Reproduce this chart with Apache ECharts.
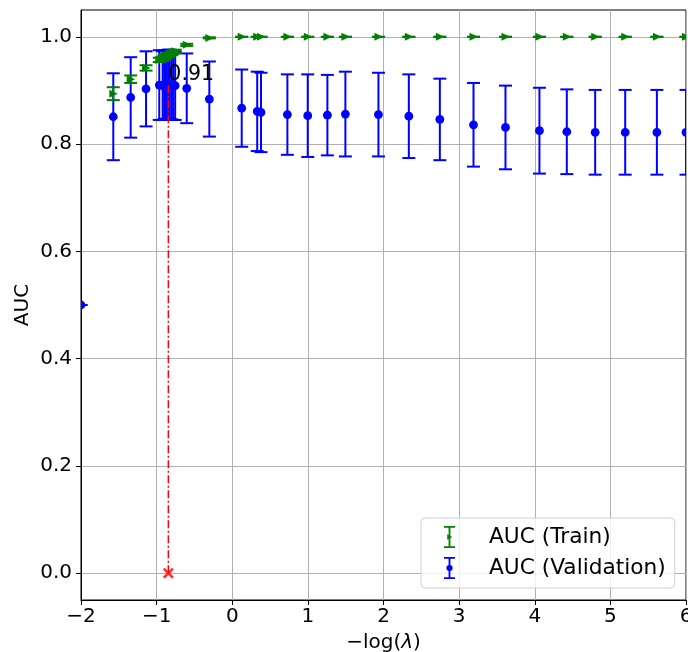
<!DOCTYPE html>
<html>
<head>
<meta charset="utf-8">
<script src="https://cdn.jsdelivr.net/npm/echarts@6/dist/echarts.min.js"></script>
<style>html,body{margin:0;padding:0;background:#fff;}#c{width:688px;height:652px;}</style>
</head>
<body>
<div id="c"></div>
<script>
// -log(lambda) positions shared by both series
const xValues = [-2.0, -1.573, -1.343, -1.14, -0.965, -0.92, -0.90, -0.88, -0.865, -0.845, -0.825, -0.80, -0.78, -0.755,
  -0.602, -0.303, 0.125, 0.33, 0.38, 0.729, 0.998, 1.258, 1.496, 1.933, 2.335, 2.745, 3.19, 3.613, 4.062, 4.424, 4.799, 5.196, 5.615, 6.0];
const valMean = [0.5, 0.851, 0.887, 0.903, 0.910, 0.909, 0.911, 0.910, 0.911, 0.912, 0.911, 0.910, 0.910, 0.909,
  0.904, 0.884, 0.867, 0.861, 0.859, 0.855, 0.853, 0.854, 0.856, 0.855, 0.852, 0.846, 0.836, 0.831, 0.825, 0.823, 0.822, 0.822, 0.822, 0.822];
const valStd = [0, 0.081, 0.075, 0.070, 0.065, 0.064, 0.064, 0.065, 0.064, 0.064, 0.065, 0.064, 0.065, 0.064,
  0.065, 0.070, 0.072, 0.074, 0.074, 0.075, 0.077, 0.075, 0.079, 0.078, 0.078, 0.076, 0.078, 0.078, 0.080, 0.079, 0.079, 0.079, 0.079, 0.079];
const trainMean = [null, 0.894, 0.921, 0.942, 0.957, 0.959, 0.961, 0.963, 0.965, 0.966, 0.967, 0.969, 0.971, 0.973,
  0.985, 0.998, 1.0, 1.0, 1.0, 1.0, 1.0, 1.0, 1.0, 1.0, 1.0, 1.0, 1.0, 1.0, 1.0, 1.0, 1.0, 1.0, 1.0, 1.0];
const trainStd = [null, 0.012, 0.007, 0.005, 0.004, 0.004, 0.004, 0.004, 0.004, 0.003, 0.003, 0.003, 0.003, 0.003,
  0.002, 0.001, 0, 0, 0, 0, 0, 0, 0, 0, 0, 0, 0, 0, 0, 0, 0, 0, 0, 0];
const bestX = -0.845;
const bestAUC = 0.912;
const xTicks = [-2, -1, 0, 1, 2, 3, 4, 5, 6];
const yTicks = [0, 0.2, 0.4, 0.6, 0.8, 1.0];
const seriesNames = ['AUC (Train)', 'AUC (Validation)'];

const FONT = 'DejaVu Sans';
function rows(mean, std) {
  const out = [];
  xValues.forEach((x, i) => { if (mean[i] != null) out.push([x, mean[i], std[i]]); });
  return out;
}
function errRender(color, marker) {
  return function (params, api) {
    const x = api.value(0), m = api.value(1), e = api.value(2);
    const c = api.coord([x, m]);
    const t = api.coord([x, m + e]);
    const b = api.coord([x, m - e]);
    const cw = 6.5;
    const ls = { stroke: color, lineWidth: 2 };
    const children = [
      { type: 'line', shape: { x1: c[0], y1: t[1], x2: c[0], y2: b[1] }, style: ls },
      { type: 'line', shape: { x1: c[0] - cw, y1: t[1], x2: c[0] + cw, y2: t[1] }, style: ls },
      { type: 'line', shape: { x1: c[0] - cw, y1: b[1], x2: c[0] + cw, y2: b[1] }, style: ls }
    ];
    if (marker === 'circle') {
      children.push({ type: 'circle', shape: { cx: c[0], cy: c[1], r: 4.4 }, style: { fill: color } });
    } else {
      children.push({ type: 'polygon', shape: { points: [[c[0] - 4, c[1] - 4], [c[0] + 4.5, c[1]], [c[0] - 4, c[1] + 4]] }, style: { fill: color } });
    }
    return { type: 'group', children };
  };
}
function circlePoly(cx, cy, r, n) {
  let s = '';
  for (let k = 0; k < n; k++) {
    const a = 2 * Math.PI * k / n;
    s += (k === 0 ? 'M' : 'L') + (cx + r * Math.cos(a)).toFixed(2) + ',' + (cy + r * Math.sin(a)).toFixed(2) + ' ';
  }
  return s + 'Z';
}
const barPath = 'M0,0 H12 V2 H0 Z M5,0 H7 V24 H5 Z M0,22 H12 V24 H0 Z ';
const trainIcon = 'path://' + barPath + 'M3.5,9 L9,12 L3.5,15 Z';
const valIcon = 'path://' + barPath + circlePoly(6, 12, 3.5, 16);

const chart = echarts.init(document.getElementById('c'), null, { renderer: 'canvas' });
chart.setOption({
  animation: false,
  backgroundColor: '#fff',
  textStyle: { fontFamily: FONT },
  grid: { left: 81, right: 2, top: 10, bottom: 52, containLabel: false, outerBoundsMode: 'none',
    show: true, borderColor: '#000', borderWidth: 1, backgroundColor: 'transparent' },
  legend: {
    orient: 'vertical', left: 421, top: 518,
    padding: [8, 9, 9, 23], itemGap: 9, itemWidth: 11, itemHeight: 22,
    backgroundColor: 'rgba(255,255,255,0.8)', borderColor: '#d0d0d0', borderWidth: 1, borderRadius: 4,
    textStyle: { fontFamily: FONT, fontSize: 21.7, color: '#000', lineHeight: 22, padding: [0, 0, 0, 29] },
    data: [
      { name: seriesNames[0], icon: trainIcon, itemStyle: { color: 'green' } },
      { name: seriesNames[1], icon: valIcon, itemStyle: { color: 'blue' } }
    ],
    selectedMode: false
  },
  xAxis: {
    type: 'value', min: -2, max: 6, interval: 1,
    name: '\u2212log({i|λ})', nameLocation: 'middle', nameGap: 33, nameMoveOverlap: false,
    nameTextStyle: { fontFamily: FONT, fontSize: 20, color: '#000',
      rich: { i: { fontFamily: FONT, fontStyle: 'italic', fontSize: 20, color: '#000' } } },
    axisLine: { show: true, onZero: false, lineStyle: { color: '#000', width: 1 } },
    axisTick: { show: true, inside: false, length: 5, lineStyle: { color: '#000', width: 1 }, customValues: xTicks },
    axisLabel: { fontFamily: FONT, fontSize: 20, color: '#000', margin: 7, customValues: xTicks,
      formatter: v => v < 0 ? '\u2212' + (-v) : String(v) },
    splitLine: { show: true, lineStyle: { color: '#b0b0b0', width: 1 } }
  },
  yAxis: {
    type: 'value', min: -0.05, max: 1.05, minInterval: 0.2, maxInterval: 0.2,
    name: 'AUC', nameLocation: 'middle', nameGap: 48, nameMoveOverlap: false,
    nameTextStyle: { fontFamily: FONT, fontSize: 20, color: '#000' },
    axisLine: { show: true, onZero: false, lineStyle: { color: '#000', width: 1 } },
    axisTick: { show: true, inside: false, length: 5, lineStyle: { color: '#000', width: 1 }, customValues: yTicks },
    axisLabel: { fontFamily: FONT, fontSize: 20, color: '#000', margin: 9, customValues: yTicks,
      formatter: v => v.toFixed(1) },
    splitLine: { show: true, lineStyle: { color: '#b0b0b0', width: 1 } }
  },
  series: [
    { name: seriesNames[1], type: 'custom', clip: true, itemStyle: { color: 'blue' },
      renderItem: errRender('blue', 'circle'), encode: { x: 0, y: 1 }, data: rows(valMean, valStd), z: 2 },
    { name: seriesNames[0], type: 'custom', clip: true, itemStyle: { color: 'green' },
      renderItem: errRender('green', 'triangle'), encode: { x: 0, y: 1 }, data: rows(trainMean, trainStd), z: 2 },
    { type: 'line', data: [[bestX, 0], [bestX, bestAUC]], symbol: 'none', silent: true, z: 3,
      lineStyle: { color: 'red', width: 1.5, type: [8, 2.5, 2, 2.5] } },
    { type: 'scatter', data: [[bestX, 0]], z: 4, silent: true,
      symbol: 'path://M2,0 L6,4 L10,0 L12,2 L8,6 L12,10 L10,12 L6,8 L2,12 L0,10 L4,6 L0,2 Z',
      symbolSize: 11, itemStyle: { color: 'red' } },
    { type: 'scatter', data: [[bestX, bestAUC]], z: 5, silent: true, symbol: 'rect', symbolSize: 2,
      itemStyle: { color: 'rgba(0,0,0,0)' },
      label: { show: true, position: [1, 1], align: 'left', verticalAlign: 'bottom', offset: [0, 1],
        formatter: () => bestAUC.toFixed(2), fontFamily: FONT, fontSize: 20.5, color: '#000',
        opacity: 1, textBorderWidth: 0 } }
  ]
});
</script>
</body>
</html>
